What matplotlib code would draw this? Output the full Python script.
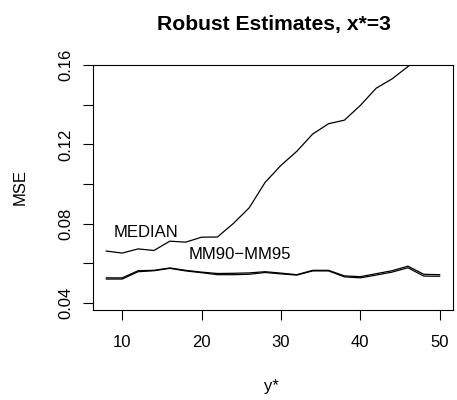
import matplotlib
matplotlib.use("Agg")
import matplotlib.pyplot as plt

plt.rcParams['font.family'] = ['Liberation Sans', 'DejaVu Sans']

# y* values and MSE of each estimator
ystar = [8, 10, 12, 14, 16, 18, 20, 22, 24, 26, 28, 30, 32, 34, 36, 38, 40, 42, 44, 46, 48, 50]
median = [0.0662, 0.0652, 0.0673, 0.0665, 0.0712, 0.0707, 0.0732, 0.0733, 0.0801, 0.0880,
          0.1008, 0.1094, 0.1165, 0.1252, 0.1304, 0.1322, 0.1396, 0.1483, 0.1530, 0.1592,
          0.1660, 0.1720]
mm90 = [0.0527, 0.0527, 0.0563, 0.0565, 0.0577, 0.0565, 0.0556, 0.0549, 0.0550, 0.0552,
        0.0558, 0.0551, 0.0543, 0.0565, 0.0565, 0.0537, 0.0533, 0.0548, 0.0563, 0.0586,
        0.0545, 0.0543]
mm95 = [0.0521, 0.0521, 0.0558, 0.0563, 0.0575, 0.0562, 0.0553, 0.0543, 0.0543, 0.0545,
        0.0554, 0.0547, 0.0541, 0.0562, 0.0562, 0.0532, 0.0527, 0.0541, 0.0556, 0.0578,
        0.0536, 0.0535]

xticks = [10, 20, 30, 40, 50]
yticks = [0.04, 0.06, 0.08, 0.10, 0.12, 0.14, 0.16]
ylabels = ['0.04', '', '0.08', '', '0.12', '', '0.16']

W, H = 457, 400
fig = plt.figure(figsize=(W / 100, H / 100), dpi=100)
ax = fig.add_axes([93 / W, 90 / H, 360 / W, 245 / H])

ax.plot(ystar, median, color='black', lw=0.9)
ax.plot(ystar, mm90, color='black', lw=0.9)
ax.plot(ystar, mm95, color='black', lw=0.9)

ax.text(13.0, 0.0755, 'MEDIAN', ha='center', va='center', fontsize=12)
ax.text(24.8, 0.0645, 'MM90\u2212MM95', ha='center', va='center', fontsize=12)

ax.set_xlim(6.32, 51.68)
ax.set_ylim(0.0365, 0.1600)
ax.set_xticks(xticks)
ax.set_xticklabels([str(t) for t in xticks], fontsize=12)
ax.set_yticks(yticks)
ax.set_yticklabels(ylabels, fontsize=12, rotation=90, va='center')
ax.tick_params(axis='both', direction='out', length=7.2, width=0.8, color='black')
ax.tick_params(axis='x', pad=11)
ax.tick_params(axis='y', pad=7)
for s in ax.spines.values():
    s.set_linewidth(0.8)

fig.text(274 / W, 1 - 24.5 / H, 'Robust Estimates, x*=3', ha='center', va='center',
         fontsize=15.2, fontweight='bold')
fig.text(271 / W, 1 - 386 / H, 'y*', ha='center', va='center', fontsize=12)
fig.text(20 / W, 1 - 187 / H, 'MSE', ha='center', va='center', fontsize=12, rotation=90)

fig.savefig('out.png', dpi=100)
